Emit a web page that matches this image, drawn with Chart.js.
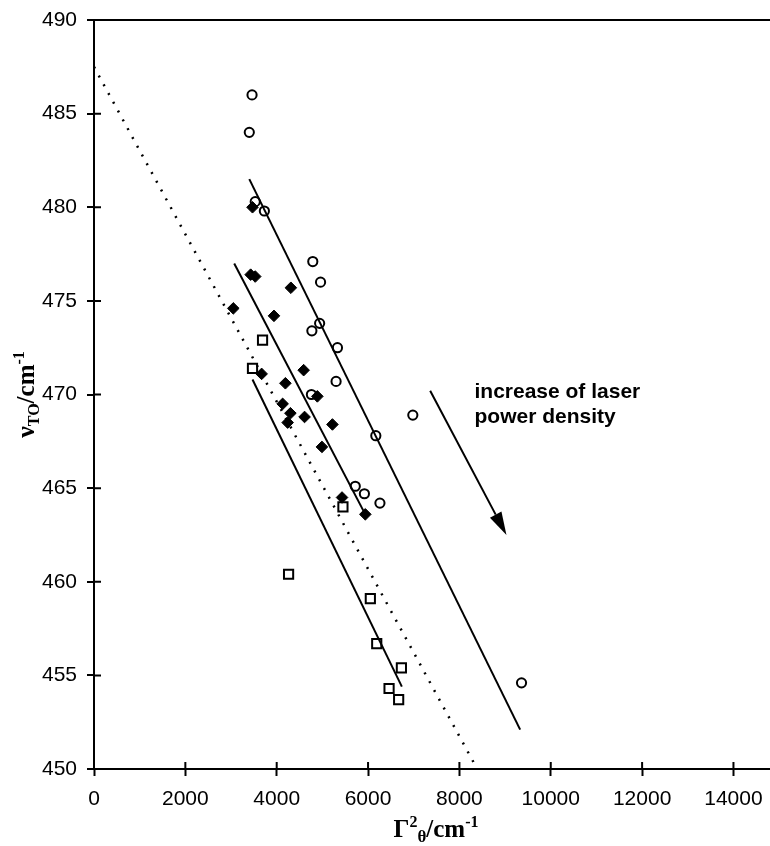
<!DOCTYPE html>
<html lang="en">
<head>
<meta charset="UTF-8">
<title>TO band position vs line width</title>
<script src="https://cdn.jsdelivr.net/npm/chart.js"></script>
<style>
    body { margin: 0; background: #fff; overflow: hidden; }
    #chart { display: block; }
</style>
</head>
<body>
<canvas id="chart" width="770" height="846"></canvas>

<script>
    // open circles
    var circleX = [3460, 3400, 3530, 3730, 4790, 4960, 4770, 4940, 5330, 5300, 4760, 6170, 5720, 5920, 6260, 6980, 9360];
    var circleY = [486.0, 484.0, 480.3, 479.8, 477.1, 476.0, 473.4, 473.8, 472.5, 470.7, 470.0, 467.8, 465.1, 464.7, 464.2, 468.9, 454.6];

    // filled diamonds
    var diamondX = [3470, 3430, 3530, 4310, 3050, 3940, 3670, 4590, 4190, 4890, 4130, 4300, 4610, 4240, 5220, 4990, 5430, 5940];
    var diamondY = [480.0, 476.4, 476.3, 475.7, 474.6, 474.2, 471.1, 471.3, 470.6, 469.9, 469.5, 469.0, 468.8, 468.5, 468.4, 467.2, 464.5, 463.6];

    // open squares
    var squareX = [3690, 3470, 5450, 4260, 6050, 6190, 6730, 6460, 6670];
    var squareY = [472.9, 471.4, 464.0, 460.4, 459.1, 456.7, 455.4, 454.3, 453.7];

    // fitted lines (end points)
    var upperFitX = [3400, 9330];
    var upperFitY = [481.5, 452.1];
    var middleFitX = [3070, 5940];
    var middleFitY = [477.0, 463.6];
    var lowerFitX = [3470, 6740];
    var lowerFitY = [470.8, 454.4];
    var dottedX = [0, 8390];
    var dottedY = [487.5, 450.0];

    // arrow for the annotation
    var arrowX = [7360, 9030];
    var arrowY = [470.2, 462.5];
    var noteLines = ['increase of laser', 'power density'];

    var xTicks = [0, 2000, 4000, 6000, 8000, 10000, 12000, 14000];
    var yTicks = [450, 455, 460, 465, 470, 475, 480, 485, 490];

    function pairs(xs, ys) {
        return xs.map(function (x, i) { return { x: x, y: ys[i] }; });
    }

    // draws a title made of pieces with super / subscripts
    function richText(ctx, parts, cx, baseY) {
        var total = 0;
        parts.forEach(function (p) {
            ctx.font = 'bold ' + p.s + 'px "Liberation Serif"';
            p.w = ctx.measureText(p.t).width;
            total += p.w;
        });
        var x = cx - total / 2;
        ctx.textAlign = 'left';
        ctx.textBaseline = 'alphabetic';
        parts.forEach(function (p) {
            ctx.font = 'bold ' + p.s + 'px "Liberation Serif"';
            ctx.fillText(p.t, x, baseY + (p.dy || 0));
            x += p.w;
        });
    }

    // the plot runs right up to the edge of the picture
    var fullWidth = {
        id: 'fullWidth',
        afterLayout: function (chart) {
            var a = chart.chartArea, xs = chart.scales.x;
            a.right = chart.width;
            a.width = a.right - a.left;
            xs.right = chart.width;
            xs.width = xs.right - xs.left;
            xs.configure();
        }
    };

    var decor = {
        id: 'decor',
        afterDraw: function (chart) {
            var ctx = chart.ctx, xs = chart.scales.x, ys = chart.scales.y, a = chart.chartArea;
            ctx.save();
            ctx.strokeStyle = '#000';
            ctx.fillStyle = '#000';
            ctx.lineWidth = 2;

            // inner halves of the tick marks
            ctx.beginPath();
            xs.ticks.forEach(function (t) {
                var px = xs.getPixelForValue(t.value);
                ctx.moveTo(px, a.bottom);
                ctx.lineTo(px, a.bottom - 7);
            });
            ys.ticks.forEach(function (t) {
                var py = ys.getPixelForValue(t.value);
                ctx.moveTo(a.left, py);
                ctx.lineTo(a.left + 7, py);
            });
            ctx.stroke();

            // arrow
            var x1 = xs.getPixelForValue(arrowX[0]), y1 = ys.getPixelForValue(arrowY[0]);
            var x2 = xs.getPixelForValue(arrowX[1]), y2 = ys.getPixelForValue(arrowY[1]);
            var ang = Math.atan2(y2 - y1, x2 - x1);
            var hl = 23, hw = 6.5;
            var bx = x2 - hl * Math.cos(ang), by = y2 - hl * Math.sin(ang);
            ctx.beginPath();
            ctx.moveTo(x1, y1);
            ctx.lineTo(bx, by);
            ctx.stroke();
            ctx.beginPath();
            ctx.moveTo(x2, y2);
            ctx.lineTo(bx + hw * Math.sin(ang), by - hw * Math.cos(ang));
            ctx.lineTo(bx - hw * Math.sin(ang), by + hw * Math.cos(ang));
            ctx.closePath();
            ctx.fill();

            // annotation text
            ctx.font = 'bold 21px "Liberation Sans"';
            ctx.textAlign = 'left';
            ctx.textBaseline = 'alphabetic';
            var nx = xs.getPixelForValue(8330), ny = ys.getPixelForValue(469.8);
            noteLines.forEach(function (s, i) { ctx.fillText(s, nx, ny + i * 25); });

            // x axis title
            richText(ctx, [
                { t: 'Γ', s: 25 },
                { t: '2', s: 16, dy: -10 },
                { t: 'θ', s: 17, dy: 5 },
                { t: '/cm', s: 25 },
                { t: '-1', s: 16, dy: -10 }
            ], 436, 837);

            // y axis title
            ctx.translate(34, (a.top + a.bottom) / 2);
            ctx.rotate(-Math.PI / 2);
            richText(ctx, [
                { t: 'ν', s: 26 },
                { t: 'TO', s: 16, dy: 5 },
                { t: '/cm', s: 25 },
                { t: '-1', s: 16, dy: -10 }
            ], 0, 0);
            ctx.restore();
        }
    };

    var tickFont = { family: 'Liberation Sans', size: 21 };

    window.onload = function () {
        var ctx = document.getElementById('chart').getContext('2d');
        new Chart(ctx, {
            type: 'scatter',
            data: {
                datasets: [
                    {
                        label: 'circles',
                        data: pairs(circleX, circleY),
                        pointStyle: 'circle',
                        pointRadius: 4.6,
                        borderColor: '#000',
                        backgroundColor: 'rgba(0,0,0,0)',
                        borderWidth: 2
                    },
                    {
                        label: 'diamonds',
                        data: pairs(diamondX, diamondY),
                        pointStyle: 'rectRot',
                        pointRadius: 5.8,
                        borderColor: '#000',
                        backgroundColor: '#000',
                        borderWidth: 1
                    },
                    {
                        label: 'squares',
                        data: pairs(squareX, squareY),
                        pointStyle: 'rect',
                        pointRadius: 6.5,
                        borderColor: '#000',
                        backgroundColor: 'rgba(0,0,0,0)',
                        borderWidth: 2
                    },
                    {
                        label: 'fit upper',
                        data: pairs(upperFitX, upperFitY),
                        showLine: true, pointRadius: 0, borderColor: '#000', borderWidth: 2
                    },
                    {
                        label: 'fit middle',
                        data: pairs(middleFitX, middleFitY),
                        showLine: true, pointRadius: 0, borderColor: '#000', borderWidth: 2
                    },
                    {
                        label: 'fit lower',
                        data: pairs(lowerFitX, lowerFitY),
                        showLine: true, pointRadius: 0, borderColor: '#000', borderWidth: 2
                    },
                    {
                        label: 'dotted',
                        data: pairs(dottedX, dottedY),
                        showLine: true, pointRadius: 0, borderColor: '#000', borderWidth: 2.5,
                        borderDash: [2, 8]
                    }
                ]
            },
            options: {
                responsive: false,
                animation: false,
                layout: { padding: { top: 20, right: 0, left: 0, bottom: 0 } },
                plugins: {
                    legend: { display: false },
                    tooltip: { enabled: false }
                },
                scales: {
                    x: {
                        type: 'linear',
                        min: 0,
                        max: 14800,
                        afterFit: function (s) { s.height = 77; },
                        afterBuildTicks: function (s) { s.ticks = xTicks.map(function (v) { return { value: v }; }); },
                        border: { display: true, color: '#000', width: 2 },
                        grid: { drawOnChartArea: false, tickLength: 7, tickColor: '#000', tickWidth: 2 },
                        ticks: {
                            padding: 11,
                            color: '#000',
                            font: tickFont,
                            maxRotation: 0,
                            callback: function (v) { return String(v); }
                        }
                    },
                    y: {
                        min: 450,
                        max: 490,
                        afterFit: function (s) { s.width = 94; s.paddingTop = 0; s.paddingBottom = 0; },
                        afterBuildTicks: function (s) { s.ticks = yTicks.map(function (v) { return { value: v }; }); },
                        border: { display: true, color: '#000', width: 2 },
                        grid: {
                            color: function (c) { return c.tick && c.tick.value === 490 ? '#000' : 'rgba(0,0,0,0)'; },
                            lineWidth: 2,
                            tickLength: 7,
                            tickColor: '#000',
                            tickWidth: 2
                        },
                        ticks: {
                            padding: 10,
                            color: '#000',
                            font: tickFont,
                            callback: function (v) { return String(v); }
                        }
                    }
                }
            },
            plugins: [fullWidth, decor]
        });
    };
</script>
</body>
</html>
